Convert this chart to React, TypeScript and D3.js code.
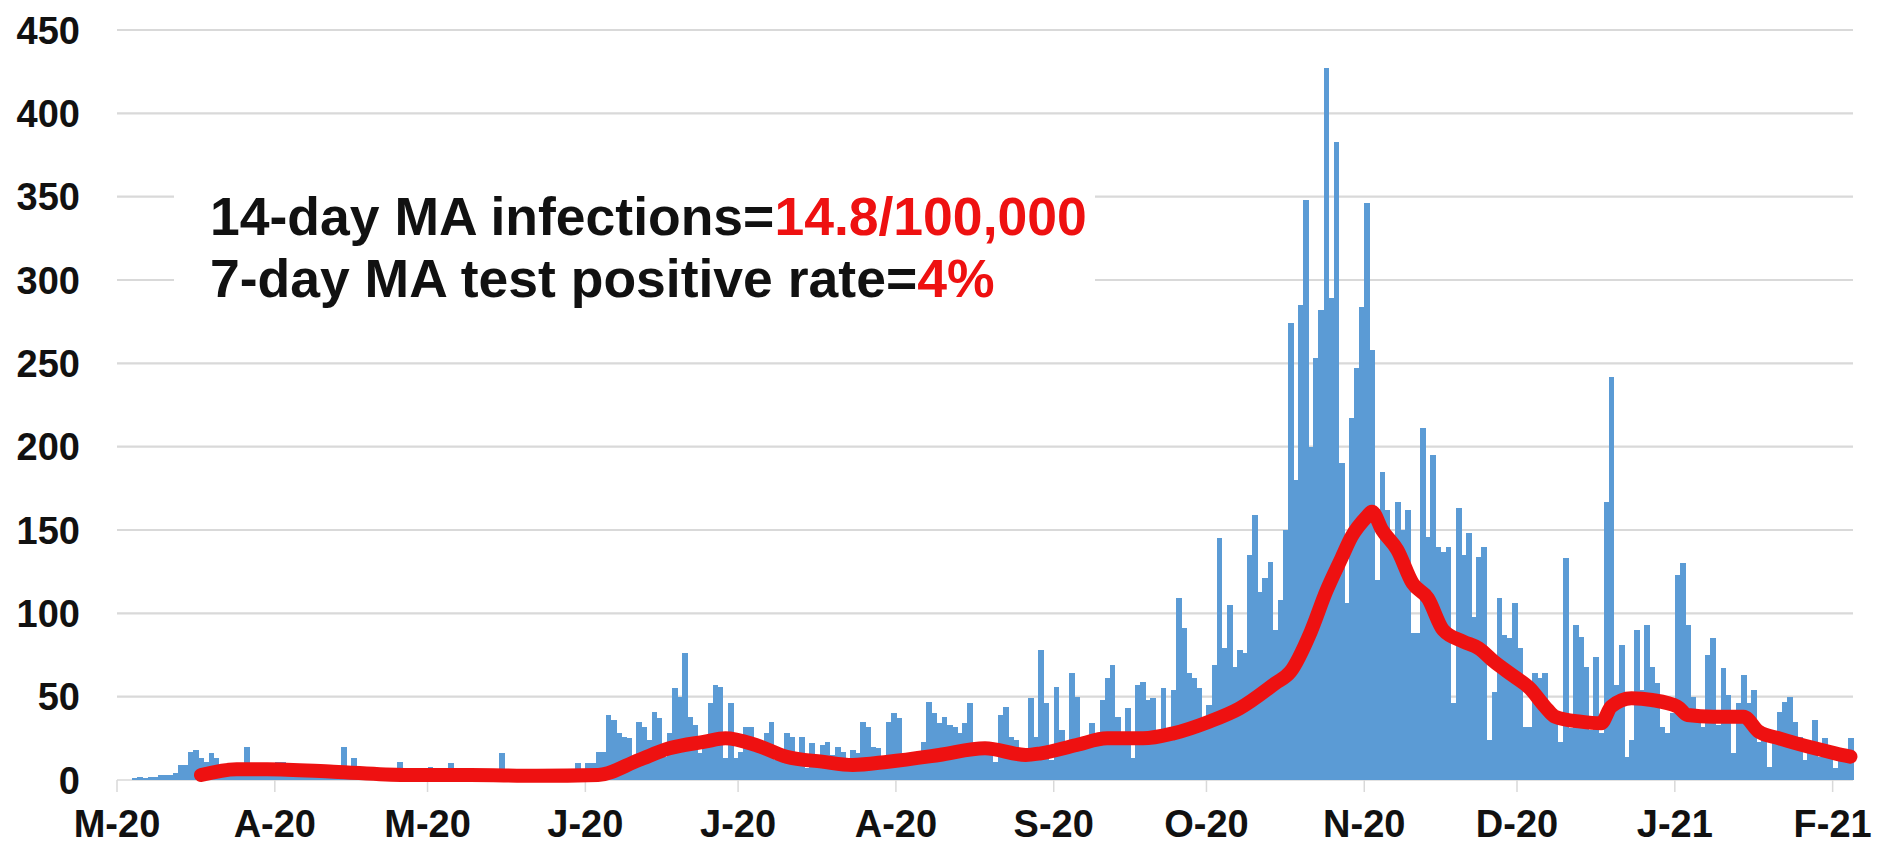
import React from "react";
import * as d3 from "d3";

// ---------- DATA ----------
const startDate = "2020-03-01";
const endDate = "2021-02-05";

const casesMar2020 = [0,0,0,1,2,1,2,2,3,3,3,4,9,9,17,18,13,11,16,13,8,6,5,7,6,20,7,5,6,8,5];
const casesApr2020 = [11,11,6,5,6,5,4,6,5,4,5,6,5,20,6,13,5,4,6,5,4,5,6,4,11,5,4,3,5,4];
const casesMay2020 = [8,3,4,3,10,4,3,2,4,3,3,4,3,3,16,3,4,3,2,3,4,3,3,4,3,2,3,4,3,10,4];
const casesJun2020 = [10,10,17,17,39,36,28,26,25,12,35,32,24,41,37,14,28,55,50,76,38,33,16,24,46,57,56,13,46,13];
const casesJul2020 = [17,32,32,21,18,28,35,12,17,28,26,15,26,7,22,14,21,23,15,20,17,12,18,16,35,32,20,19,14,35,40];
const casesAug2020 = [37,16,14,12,15,23,47,40,34,38,33,32,28,34,46,20,18,20,17,11,39,44,26,24,14,18,49,26,78,46,12];
const casesSep2020 = [56,30,20,64,50,20,22,34,25,48,61,69,38,25,43,13,57,59,48,49,30,55,30,54,109,91,64,61,55,30];
const casesOct2020 = [45,69,145,79,105,68,78,76,135,159,113,121,131,90,108,150,274,180,285,348,200,253,282,427,289,383,190,106,217,247,284];
const casesNov2020 = [346,258,120,185,162,140,167,150,162,88,88,211,146,195,140,137,140,46,163,135,148,98,134,140,24,53,109,87,85,106];
const casesDec2020 = [79,32,32,64,61,64,36,38,23,133,31,93,86,68,30,74,28,167,242,57,81,14,24,90,54,93,68,58,32,28,40];
const casesJan2021 = [123,130,93,50,36,32,75,85,33,67,51,16,46,63,46,54,23,26,8,22,41,47,50,35,26,12,20,36,14,25,20];
const casesFeb2021 = [7,12,14,25];

const dailyCases = [
  ...casesMar2020, ...casesApr2020, ...casesMay2020, ...casesJun2020,
  ...casesJul2020, ...casesAug2020, ...casesSep2020, ...casesOct2020,
  ...casesNov2020, ...casesDec2020, ...casesJan2021, ...casesFeb2021,
];

const maDates = [
  "2020-03-17","2020-03-24","2020-03-30","2020-04-12","2020-04-26","2020-05-09","2020-05-22",
  "2020-06-03","2020-06-11","2020-06-17","2020-06-24","2020-06-28","2020-07-04","2020-07-10",
  "2020-07-17","2020-07-23","2020-07-30","2020-08-09","2020-08-18","2020-08-26","2020-08-29",
  "2020-09-05","2020-09-11","2020-09-18","2020-09-24","2020-10-01","2020-10-07","2020-10-14",
  "2020-10-17","2020-10-21","2020-10-24","2020-10-27","2020-10-29","2020-11-01","2020-11-02",
  "2020-11-04","2020-11-07","2020-11-10","2020-11-13","2020-11-16","2020-11-20","2020-11-23",
  "2020-11-26","2020-11-30","2020-12-03","2020-12-06","2020-12-08","2020-12-13","2020-12-17",
  "2020-12-19","2020-12-23","2020-12-27","2021-01-01","2021-01-03","2021-01-08","2021-01-14",
  "2021-01-17","2021-01-21","2021-01-28","2021-02-01","2021-02-04",
];
const maValues = [
  3,6.5,6.5,5,3,3,2.5,
  3,12,19,23,25,21,14,
  11,9,11,15,19,15,16,
  21,25,25,28,35,43,58,
  65,89,113,133,146,158,161,
  150,138,118,109,90,83,79,
  71,62,55,44,38,35,34,
  44,49,48,44,39,38,38,
  29,25,19,16,14,
];

const monthTickDates = [
  "2020-03-01","2020-04-01","2020-05-01","2020-06-01","2020-07-01","2020-08-01",
  "2020-09-01","2020-10-01","2020-11-01","2020-12-01","2021-01-01","2021-02-01",
];
const monthLabels = ["M-20","A-20","M-20","J-20","J-20","A-20","S-20","O-20","N-20","D-20","J-21","F-21"];
const yTicks = [0, 50, 100, 150, 200, 250, 300, 350, 400, 450];

const legendLine1 = ["14-day MA infections=", "14.8/100,000"];
const legendLine2 = ["7-day MA test positive rate=", "4%"];

// ---------- CHART ----------
const W = 1880;
const H = 846;
const FONT = "'Liberation Sans', Arial, Helvetica, sans-serif";
const BAR = "#5b9bd5";
const RED = "#ee1111";

export default function App() {
  const parse = d3.utcParse("%Y-%m-%d");
  const start = parse(startDate) as Date;
  const end = parse(endDate) as Date;

  const x = d3.scaleUtc().domain([start, end]).range([117, 1853]);
  const y = d3.scaleLinear().domain([0, 450]).range([780, 30]);
  const dayW = x(d3.utcDay.offset(start, 1)) - x(start);

  const bars = dailyCases.map((v, i) => {
    const d0 = d3.utcDay.offset(start, i);
    return { x0: x(d0), v };
  });

  const maPts: [Date, number][] = maDates.map((d, i) => [parse(d) as Date, maValues[i]]);
  const linePath = d3
    .line<[Date, number]>()
    .x((d) => x(d[0]) + dayW / 2)
    .y((d) => y(d[1]))
    .curve(d3.curveMonotoneX)(maPts) as string;

  const [x0, x1] = x.range();

  return (
    <svg
      width={W}
      height={H}
      viewBox={`0 0 ${W} ${H}`}
      style={{ position: "absolute", left: 0, top: 0, background: "#fff" }}
    >
      <rect x={0} y={0} width={W} height={H} fill="#ffffff" />
      {/* gridlines */}
      {yTicks.filter((t) => t > 0).map((t) => (
        <line key={t} x1={x0} x2={x1} y1={y(t)} y2={y(t)} stroke="#d9d9d9" strokeWidth={2.2} />
      ))}
      {/* axis line and ticks */}
      <line x1={x0} x2={x1} y1={y(0)} y2={y(0)} stroke="#d9d9d9" strokeWidth={1.5} />
      {monthTickDates.map((d) => {
        const xx = x(parse(d) as Date);
        return <line key={d} x1={xx} x2={xx} y1={y(0)} y2={y(0) + 12} stroke="#d9d9d9" strokeWidth={1.5} />;
      })}
      {/* legend box */}
      <rect x={174} y={185} width={921} height={118} fill="#ffffff" />
      {/* bars */}
      <g fill={BAR} shapeRendering="crispEdges">
        {bars.map((b, i) => (
          <rect key={i} x={b.x0} y={y(b.v)} width={dayW + 0.6} height={y(0) - y(b.v)} />
        ))}
      </g>
      {/* moving average line */}
      <path d={linePath} fill="none" stroke={RED} strokeWidth={14} strokeLinejoin="round" strokeLinecap="round" />
      {/* y labels */}
      <g fontFamily={FONT} fontWeight="bold" fontSize={38} fill="#111" textAnchor="end">
        {yTicks.map((t) => (
          <text key={t} x={80} y={y(t) + 13.5}>{t}</text>
        ))}
      </g>
      {/* x labels */}
      <g fontFamily={FONT} fontWeight="bold" fontSize={38} fill="#111" textAnchor="middle">
        {monthTickDates.map((d, i) => (
          <text key={d + i} x={x(parse(d) as Date)} y={837}>{monthLabels[i]}</text>
        ))}
      </g>
      {/* legend text */}
      <g fontFamily={FONT} fontWeight="bold" fontSize={53.5} fill="#111">
        <text x={210} y={235}>
          <tspan>{legendLine1[0]}</tspan>
          <tspan fill={RED}>{legendLine1[1]}</tspan>
        </text>
        <text x={210} y={297}>
          <tspan>{legendLine2[0]}</tspan>
          <tspan fill={RED}>{legendLine2[1]}</tspan>
        </text>
      </g>
    </svg>
  );
}
